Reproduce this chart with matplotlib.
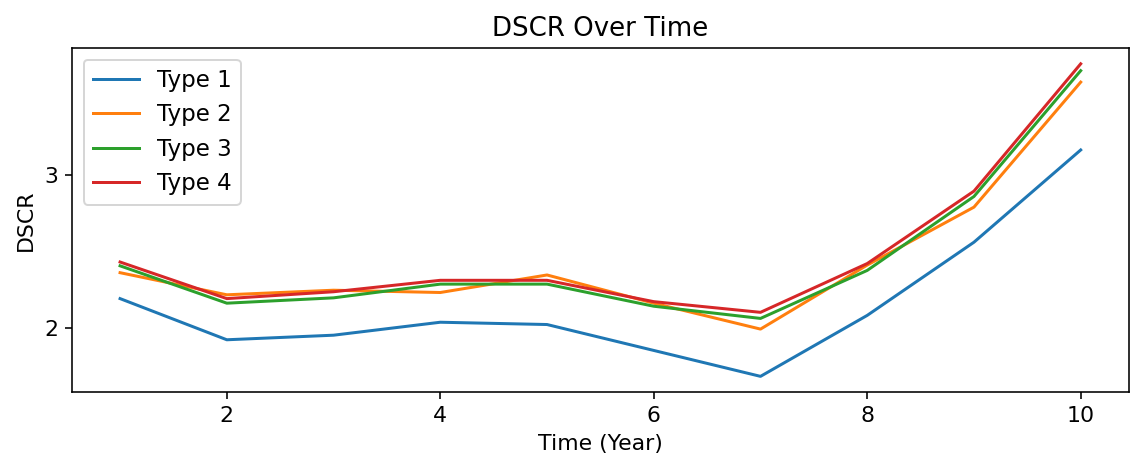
import numpy as np
import matplotlib
matplotlib.use("Agg")
import matplotlib.pyplot as plt
from matplotlib.ticker import MultipleLocator

years = np.arange(1, 11)
type1 = [2.19, 1.92, 1.95, 2.035, 2.02, 1.85, 1.68, 2.08, 2.56, 3.165]
type2 = [2.36, 2.215, 2.245, 2.23, 2.345, 2.16, 1.99, 2.41, 2.79, 3.61]
type3 = [2.405, 2.16, 2.195, 2.285, 2.285, 2.14, 2.06, 2.375, 2.86, 3.685]
type4 = [2.43, 2.19, 2.235, 2.31, 2.31, 2.17, 2.10, 2.42, 2.895, 3.73]
labels = ["Type 1", "Type 2", "Type 3", "Type 4"]

plt.rcParams["font.size"] = 11

fig, ax = plt.subplots(figsize=(1131 / 144, 459 / 144), dpi=144)
fig.subplots_adjust(left=0.0637, right=0.998, bottom=0.146, top=0.895)

for series, label in zip([type1, type2, type3, type4], labels):
    ax.plot(years, series, label=label)

ax.yaxis.set_major_locator(MultipleLocator(1))
ax.set_title("DSCR Over Time", fontsize=13)
ax.set_xlabel("Time (Year)")
ax.set_ylabel("DSCR")
ax.legend(loc="upper left", fontsize=11.5)

fig.savefig("out.png", dpi=144)
